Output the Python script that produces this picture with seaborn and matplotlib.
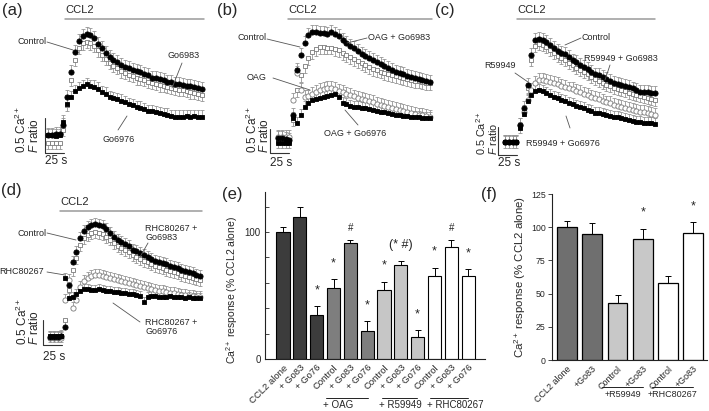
import numpy as np
import pandas as pd
import seaborn as sns
import matplotlib.pyplot as plt

W, H = 709, 411

# sampling times of the Ca2+ recordings (s)
t = np.arange(0, 205, 5)

# (a) CCL2 alone / + Go6983 / + Go6976  (F ratio)
a_control = [0.80, 0.80, 0.81, 0.81, 0.94, 1.34, 1.70, 1.99, 2.14, 2.21, 2.24, 2.23, 2.19, 2.10,
             2.04, 1.97, 1.91, 1.87, 1.84, 1.80, 1.77, 1.76, 1.73, 1.71, 1.70, 1.67, 1.66, 1.61,
             1.61, 1.60, 1.59, 1.56, 1.56, 1.53, 1.53, 1.51, 1.50, 1.50, 1.49, 1.47, 1.46]
a_go6983 = [0.69, 0.69, 0.69, 0.69, 0.87, 1.23, 1.59, 1.87, 2.04, 2.11, 2.13, 2.11, 2.07, 2.01,
            1.94, 1.89, 1.83, 1.79, 1.76, 1.71, 1.69, 1.66, 1.64, 1.61, 1.60, 1.59, 1.56, 1.54,
            1.53, 1.51, 1.50, 1.49, 1.47, 1.46, 1.44, 1.44, 1.43, 1.41, 1.40, 1.39, 1.37]
a_go6976 = [0.80, 0.80, 0.79, 0.80, 0.99, 1.24, 1.34, 1.43, 1.47, 1.50, 1.53, 1.50, 1.49, 1.46,
            1.41, 1.39, 1.34, 1.33, 1.31, 1.29, 1.27, 1.24, 1.23, 1.20, 1.19, 1.17, 1.14, 1.14,
            1.13, 1.11, 1.10, 1.09, 1.07, 1.06, 1.06, 1.06, 1.07, 1.06, 1.07, 1.06, 1.06]
a_sem = [0.10, 0.09, 0.09]

# (b) OAG
b_control = [0.80, 0.80, 0.78, 0.76, 1.28, 2.22, 2.53, 2.78, 2.95, 3.01, 3.01, 2.99, 2.99, 2.97,
             3.01, 2.97, 2.93, 2.84, 2.78, 2.72, 2.68, 2.61, 2.55, 2.51, 2.47, 2.43, 2.38, 2.34,
             2.30, 2.26, 2.22, 2.18, 2.15, 2.13, 2.09, 2.07, 2.05, 2.03, 2.01, 1.99, 1.97]
b_oag_go6983 = [0.74, 0.74, 0.74, 0.74, 1.18, 1.80, 2.11, 2.30, 2.47, 2.59, 2.65, 2.70, 2.70, 2.68,
                2.68, 2.65, 2.63, 2.57, 2.53, 2.49, 2.45, 2.40, 2.36, 2.32, 2.28, 2.24, 2.22, 2.18,
                2.15, 2.13, 2.11, 2.09, 2.07, 2.05, 2.03, 2.01, 1.99, 1.99, 1.97, 1.95, 1.95]
b_oag = [0.82, 0.82, 0.82, 0.82, 1.59, 2.15, 1.80, 1.65, 1.67, 1.72, 1.76, 1.80, 1.82, 1.84,
         1.84, 1.82, 1.78, 1.76, 1.72, 1.70, 1.67, 1.63, 1.61, 1.59, 1.57, 1.55, 1.51, 1.49,
         1.47, 1.45, 1.43, 1.40, 1.38, 1.36, 1.34, 1.32, 1.30, 1.28, 1.28, 1.26, 1.24]
b_oag_go6976 = [0.70, 0.70, 0.70, 0.70, 1.22, 1.11, 1.28, 1.45, 1.53, 1.59, 1.61, 1.63, 1.65, 1.67,
                1.70, 1.72, 1.65, 1.53, 1.51, 1.47, 1.45, 1.45, 1.43, 1.43, 1.40, 1.38, 1.36, 1.34,
                1.34, 1.32, 1.30, 1.28, 1.28, 1.26, 1.26, 1.24, 1.24, 1.24, 1.22, 1.22, 1.22]
b_sem = [0.15, 0.14, 0.14, 0.13]

# (c) R59949
c_control = [0.80, 0.80, 0.80, 0.80, 1.10, 1.41, 1.82, 2.35, 2.62, 2.64, 2.62, 2.59, 2.53, 2.48,
             2.43, 2.39, 2.37, 2.32, 2.26, 2.23, 2.18, 2.14, 2.10, 2.05, 2.01, 2.00, 1.96, 1.93,
             1.89, 1.85, 1.84, 1.82, 1.80, 1.78, 1.76, 1.73, 1.69, 1.69, 1.69, 1.68, 1.68]
c_r_go6983 = [0.80, 0.80, 0.80, 0.80, 1.07, 1.37, 1.76, 2.26, 2.51, 2.55, 2.53, 2.50, 2.44, 2.39,
              2.34, 2.30, 2.26, 2.21, 2.18, 2.12, 2.09, 2.05, 2.01, 1.96, 1.93, 1.89, 1.85, 1.82,
              1.80, 1.76, 1.75, 1.73, 1.71, 1.68, 1.66, 1.64, 1.62, 1.60, 1.59, 1.57, 1.55]
c_r59949 = [0.80, 0.80, 0.80, 0.80, 1.10, 1.34, 1.55, 1.73, 1.85, 1.91, 1.91, 1.89, 1.87, 1.85,
            1.84, 1.80, 1.78, 1.76, 1.75, 1.71, 1.69, 1.66, 1.64, 1.60, 1.59, 1.57, 1.53, 1.51,
            1.50, 1.46, 1.44, 1.43, 1.41, 1.39, 1.37, 1.35, 1.34, 1.34, 1.32, 1.30, 1.28]
c_r_go6976 = [0.80, 0.80, 0.80, 0.80, 1.05, 1.30, 1.53, 1.64, 1.71, 1.73, 1.71, 1.68, 1.64, 1.60,
              1.59, 1.55, 1.53, 1.50, 1.48, 1.44, 1.43, 1.41, 1.37, 1.35, 1.32, 1.32, 1.30, 1.28,
              1.26, 1.25, 1.25, 1.23, 1.21, 1.19, 1.18, 1.16, 1.16, 1.14, 1.14, 1.14, 1.12]
c_sem = [0.12, 0.11, 0.12, 0.11]

# (d) RHC80267
d_control = [0.80, 0.80, 0.80, 0.82, 1.00, 1.84, 2.30, 2.50, 2.78, 2.92, 3.00, 3.04, 3.06, 3.04,
             3.02, 2.96, 2.88, 2.80, 2.74, 2.70, 2.66, 2.62, 2.54, 2.52, 2.48, 2.44, 2.40, 2.36,
             2.32, 2.30, 2.28, 2.26, 2.22, 2.20, 2.18, 2.14, 2.12, 2.10, 2.08, 2.04, 2.02]
d_rhc_go6983 = [0.82, 0.82, 0.82, 0.82, 1.14, 1.74, 2.14, 2.38, 2.64, 2.78, 2.84, 2.88, 2.90, 2.88,
                2.86, 2.80, 2.74, 2.68, 2.62, 2.58, 2.54, 2.50, 2.44, 2.40, 2.36, 2.32, 2.30, 2.26,
                2.22, 2.20, 2.18, 2.14, 2.12, 2.10, 2.08, 2.04, 2.02, 2.00, 1.98, 1.96, 1.94]
d_rhc = [0.78, 0.78, 0.78, 0.78, 1.54, 1.94, 1.38, 1.54, 1.80, 1.92, 1.98, 2.02, 2.04, 2.04,
         2.02, 2.00, 1.98, 1.96, 1.94, 1.92, 1.90, 1.88, 1.86, 1.84, 1.82, 1.80, 1.78, 1.76,
         1.74, 1.72, 1.72, 1.70, 1.68, 1.68, 1.66, 1.64, 1.64, 1.62, 1.62, 1.60, 1.60]
d_rhc_go6976 = [0.82, 0.82, 0.82, 0.82, 1.98, 1.58, 1.60, 1.66, 1.72, 1.76, 1.76, 1.74, 1.74, 1.76,
                1.74, 1.72, 1.72, 1.70, 1.70, 1.68, 1.68, 1.66, 1.66, 1.64, 1.62, 1.50, 1.60, 1.62,
                1.62, 1.60, 1.60, 1.60, 1.62, 1.60, 1.60, 1.60, 1.58, 1.60, 1.58, 1.58, 1.58]
d_sem = [0.12, 0.11, 0.12, 0.11]

# (e) summary, % of CCL2 alone
e_labels = ['CCL2 alone', '+ Go83', '+ Go76', 'Control', '+ Go83', '+ Go76',
            'Control', '+ Go83', '+ Go76', 'Control', '+ Go83', '+ Go76']
e_values = [100, 112, 35, 56, 91, 22, 54, 74, 17, 65, 88, 65]
e_sem = [4, 8, 7, 7, 2.5, 8, 7, 3.5, 6, 7, 6, 6]
e_marks = ['', '', '*', '*', '#', '*', '*', '(* #)', '*', '*', '#', '*']
e_groups = ['+ OAG', '+ R59949', '+ RHC80267']

# (f) summary, % of CCL2 alone
f_labels = ['CCL2 alone', '+Go83', 'Control', '+Go83', 'Control', '+Go83']
f_values = [100, 95, 43, 91, 58, 96]
f_sem = [5, 8, 6, 8, 5, 8]
f_marks = ['', '', '', '*', '', '*']
f_groups = ['+R59949', '+RHC80267']

sns.set_theme(style='white')
plt.rcParams['font.family'] = ['Liberation Sans', 'DejaVu Sans']
plt.rcParams['mathtext.fontset'] = 'custom'
plt.rcParams['mathtext.rm'] = 'Liberation Sans'
plt.rcParams['mathtext.it'] = 'Liberation Sans:italic'

fig = plt.figure(figsize=(W / 100, H / 100), dpi=100)


def ftext(x, y, s, **kw):
    kw.setdefault('va', 'center')
    kw.setdefault('ha', 'center')
    kw.setdefault('fontsize', 6.5)
    fig.text(x / W, 1 - y / H, s, **kw)


def fline(x1, y1, x2, y2, color='#555555', lw=0.6):
    fig.add_artist(plt.Line2D([x1 / W, x2 / W], [1 - y1 / H, 1 - y2 / H], color=color, lw=lw))


def trace_axes(x0, yb, kx, ky):
    # transparent full-figure axes: t=0 at pixel x0, ratio 0.8 at pixel yb
    ax = fig.add_axes([0, 0, 1, 1])
    ax.set_xlim(-x0 / kx, (W - x0) / kx)
    ax.set_ylim(0.8 - (H - yb) / ky, 0.8 + yb / ky)
    ax.set_axis_off()

    def to_data(px, py):
        return (px - x0) / kx, 0.8 + (yb - py) / ky
    return ax, to_data


STYLE = {'fc': ('o', 'black', 'black', 'up'),
         'fs': ('s', 'black', 'black', 'up'),
         'oc': ('o', 'white', '#7a7a7a', 'up'),
         'os': ('s', 'white', '#7a7a7a', 'down')}


def trace(ax, y, sem, kind):
    marker, face, edge, side = STYLE[kind]
    y = np.asarray(y)
    e = np.full_like(y, sem)
    z = np.zeros_like(y)
    yerr = [z, e] if side == 'up' else [e, z]
    ax.errorbar(t, y, yerr=yerr, fmt='none', ecolor='#959595', elinewidth=0.6,
                capsize=1.2, capthick=0.6, zorder=2)
    sns.scatterplot(x=t, y=y, marker=marker, s=12 if marker == 's' else 14, color=face,
                    edgecolor=edge, linewidth=0.6, ax=ax, zorder=3 if face == 'black' else 2.5)


def scale_bar(ax, to_data, px, py, tx1, tx2, ty25, fs=8.5):
    x, y = to_data(px, py)
    ax.plot([x, x, x + 25], [y + 0.5, y, y], color='#333333', lw=0.8)
    ftext(tx1, py, '0.5 Ca$^{2+}$', rotation=90, va='bottom', fontsize=fs)
    ftext(tx2, py, '$\\mathit{F}$ ratio', rotation=90, va='bottom', fontsize=fs)
    ftext(px + 11, ty25, '25 s', fontsize=8.5)


def ccl2(x1, x2, y):
    ftext(x1, y - 9, 'CCL2', ha='left', fontsize=8)
    fline(x1, y, x2, y, color='#9a9a9a', lw=1.1)


# ---- (a)
ax, conv = trace_axes(48, 135, 0.77, 70)
trace(ax, a_go6983, a_sem[1], 'os')
trace(ax, a_go6976, a_sem[2], 'fs')
trace(ax, a_control, a_sem[0], 'fc')
scale_bar(ax, conv, 45, 153, 21, 34, 161)
ftext(2, 11, '(a)', ha='left', fontsize=12)
ccl2(65, 204, 19)
ftext(32, 41, 'Control'); fline(47, 42, 73, 50)
ftext(184, 55, 'Go6983'); fline(182, 63, 172, 88)
ftext(119, 139, 'Go6976'); fline(118, 130, 127, 116)

# ---- (b)
ax, conv = trace_axes(278, 138, 0.76, 48)
trace(ax, b_oag_go6983, b_sem[1], 'os')
trace(ax, b_oag, b_sem[2], 'oc')
trace(ax, b_oag_go6976, b_sem[3], 'fs')
trace(ax, b_control, b_sem[0], 'fc')
scale_bar(ax, conv, 270, 153, 252, 265, 163)
ftext(217, 11, '(b)', ha='left', fontsize=12)
ccl2(288, 432, 19)
ftext(252, 37, 'Control'); fline(267, 39, 300, 47)
ftext(399, 37, 'OAG + Go6983'); fline(367, 38, 347, 43)
ftext(257, 77, 'OAG'); fline(273, 78, 310, 90)
ftext(355, 133, 'OAG + Go6976'); fline(358, 125, 345, 110)

# ---- (c)
ax, conv = trace_axes(505, 142, 0.75, 56)
trace(ax, c_r_go6983, c_sem[1], 'os')
trace(ax, c_r59949, c_sem[2], 'oc')
trace(ax, c_r_go6976, c_sem[3], 'fs')
trace(ax, c_control, c_sem[0], 'fc')
scale_bar(ax, conv, 498, 155, 481, 493, 163, fs=7.8)
ftext(435, 11, '(c)', ha='left', fontsize=12)
ccl2(517, 655, 19)
ftext(596, 37, 'Control'); fline(581, 38, 565, 45)
ftext(621, 58, 'R59949 + Go6983'); fline(610, 65, 605, 80)
ftext(500, 65, 'R59949'); fline(515, 73, 528, 82)
ftext(563, 143, 'R59949 + Go6976'); fline(570, 128, 566, 116)

# ---- (d)
ax, conv = trace_axes(50, 337, 0.75, 50)
trace(ax, d_rhc_go6983, d_sem[1], 'os')
trace(ax, d_rhc, d_sem[2], 'oc')
trace(ax, d_rhc_go6976, d_sem[3], 'fs')
trace(ax, d_control, d_sem[0], 'fc')
scale_bar(ax, conv, 43, 345, 22, 35, 357)
ftext(1, 190, '(d)', ha='left', fontsize=12)
ccl2(60, 202, 211)
ftext(32, 233, 'Control'); fline(47, 233, 76, 240)
ftext(145, 233, 'RHC80267 +\nGo6983', ha='left', linespacing=1.1); fline(148, 243, 140, 257)
ftext(22, 271, 'RHC80267'); fline(47, 272, 65, 275)
ftext(145, 327, 'RHC80267 +\nGo6976', ha='left', linespacing=1.1); fline(140, 322, 113, 303)


# ---- bar panels
def bar_panel(rect, labels, values, sem, marks, colors, lw):
    ax = fig.add_axes([rect[0] / W, 1 - rect[3] / H, (rect[2] - rect[0]) / W, (rect[3] - rect[1]) / H])
    df = pd.DataFrame({'pos': [str(i) for i in range(len(values))], 'val': values})
    sns.barplot(data=df, x='pos', y='val', hue='pos', palette=dict(zip(df['pos'], colors)),
                legend=False, errorbar=None, edgecolor='black', linewidth=lw, width=0.78, ax=ax)
    x = np.arange(len(values))
    ax.errorbar(x, values, yerr=[np.zeros(len(values)), sem], fmt='none', ecolor='black',
                elinewidth=0.7, capsize=2, capthick=0.7)
    for i, m in enumerate(marks):
        if m:
            ax.annotate(m, (i, values[i] + sem[i]), xytext=(0, 7 if '*' in m else 5),
                        textcoords='offset points', ha='center', va='bottom',
                        fontsize=9 if '*' in m else 7)
    sns.despine(ax=ax)
    for s in ('left', 'bottom'):
        ax.spines[s].set_linewidth(0.8)
        ax.spines[s].set_color('#222222')
    ax.set_xlabel('')
    ax.set_ylabel('')
    ax.set_xticks(x)
    ax.set_xticklabels(labels, rotation=45, ha='right', rotation_mode='anchor')
    ax.patch.set_visible(False)
    return ax


ax = bar_panel((265, 192, 485, 359), e_labels, e_values, e_sem, e_marks,
               ['#3c3c3c'] * 3 + ['#7e7e7e'] * 3 + ['#c6c6c6'] * 3 + ['white'] * 3, 0.8)
ax.set_xlim(-1.07, 12.0)
ax.set_ylim(0, 131.5)
ax.set_yticks([0, 20, 40, 60, 80, 100, 120])
ax.set_yticklabels(['0', '', '', '', '', '100', ''])
ax.tick_params(axis='y', direction='in', length=3, width=0.6, labelsize=7, pad=3, left=True)
ax.tick_params(axis='x', length=0, labelsize=6.8, pad=3)
ftext(222, 194, '(e)', ha='left', fontsize=12)
ftext(232, 290, 'Ca$^{2+}$ response (% CCL2 alone)', rotation=90, fontsize=7.5)
for (x1, x2), name in zip([(326, 368), (382, 417), (430, 468)], e_groups):
    fline(x1, 398, x2, 398, color='#222222', lw=0.7)
    ftext(x1 - 3, 405, name, ha='left', fontsize=7)

ax = bar_panel((552, 194, 707, 360), f_labels, f_values, f_sem, f_marks,
               ['#6f6f6f'] * 2 + ['#c8c8c8'] * 2 + ['white'] * 2, 0.9)
ax.set_xlim(-0.6, 5.55)
ax.set_ylim(0, 125)
ax.set_yticks([0, 25, 50, 75, 100, 125])
ax.tick_params(axis='y', direction='out', length=3, width=0.6, labelsize=6.3, pad=1.5, left=True)
ax.tick_params(axis='x', length=0, labelsize=6.5, pad=3)
ftext(481, 194, '(f)', ha='left', fontsize=12)
ftext(520, 277, 'Ca$^{2+}$ response (% CCL2 alone)', rotation=90, fontsize=8.2)
for (x1, x2), name in zip([(602, 643), (652, 693)], f_groups):
    fline(x1, 387, x2, 387, color='#222222', lw=0.7)
    ftext((x1 + x2) / 2, 394, name, fontsize=6.5)

fig.savefig('out.png', dpi=100)
